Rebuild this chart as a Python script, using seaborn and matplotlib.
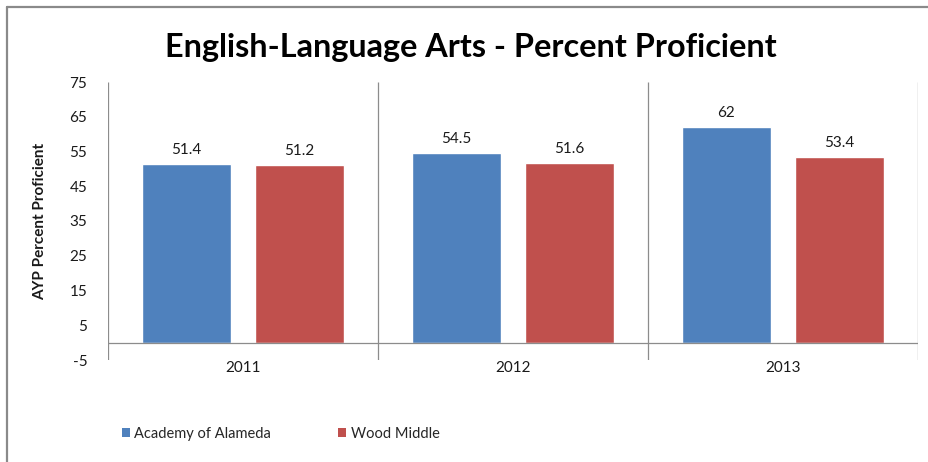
import matplotlib
matplotlib.use("Agg")
import matplotlib.pyplot as plt
from matplotlib.lines import Line2D
from matplotlib.patches import Patch
import pandas as pd
import seaborn as sns

# Data
years = ["2011", "2012", "2013"]
schools = ["Academy of Alameda", "Wood Middle"]
academy_values = [51.4, 54.5, 62]
wood_values = [51.2, 51.6, 53.4]
y_ticks = [-5, 5, 15, 25, 35, 45, 55, 65, 75]
colors = ["#4F81BD", "#C0504D"]

df = pd.DataFrame({
    "Year": years * 2,
    "School": [schools[0]] * 3 + [schools[1]] * 3,
    "Value": academy_values + wood_values,
})

sns.set_theme(style="white")
plt.rcParams["font.family"] = ["Lato", "DejaVu Sans"]

fig = plt.figure(figsize=(9.29, 4.62), dpi=100)
ax = fig.add_axes([108 / 929, 1 - 360 / 462, (918 - 108) / 929, (360 - 82) / 462])

sns.barplot(data=df, x="Year", y="Value", hue="School", order=years,
            hue_order=schools, palette=colors, saturation=1,
            width=0.84, gap=0.21, ax=ax, legend=False, errorbar=None)

for cont in ax.containers:
    ax.bar_label(cont, labels=[f"{v:g}" for v in cont.datavalues],
                 padding=5, fontsize=11, color="#1a1a1a")

ax.set_ylim(-5, 75)
ax.set_xlim(-0.5, 2.5)
ax.set_yticks(y_ticks)
ax.set_yticklabels([str(t) for t in y_ticks], fontsize=11, color="#1a1a1a")
ax.tick_params(axis="y", length=0, pad=15)
ax.tick_params(axis="x", length=0, pad=1, labelsize=11, labelcolor="#1a1a1a")
for s in ax.spines.values():
    s.set_visible(False)

# Category separators and zero line
ax.vlines([-0.5, 0.5, 1.5, 2.5], -5, 75, colors="#8c8c8c", lw=0.9, zorder=0)
ax.axhline(0, color="#8c8c8c", lw=0.9, zorder=3)

ax.set_xlabel("")
ax.set_ylabel("AYP Percent Proficient", fontsize=11, fontweight="bold",
              color="#1a1a1a", labelpad=16)

fig.text(471 / 929, 1 - 47 / 462, "English-Language Arts - Percent Proficient",
         ha="center", va="center", fontsize=23.3, fontweight="bold", color="black")

handles = [Patch(facecolor=c, edgecolor="none") for c in colors]
fig.legend(handles, schools, loc="center left", bbox_to_anchor=(122 / 929, 1 - 434 / 462),
           ncol=2, frameon=False, borderaxespad=0, borderpad=0,
           prop={"size": 10.5},
           handlelength=0.55, handleheight=0.6, handletextpad=0.3, columnspacing=4.6)

# Chart frame (top and left edges)
fig.add_artist(Line2D([7 / 929, 1], [1 - 7 / 462, 1 - 7 / 462],
                      transform=fig.transFigure, color="#8a8a8a", lw=1.6))
fig.add_artist(Line2D([7 / 929, 7 / 929], [0, 1 - 7 / 462],
                      transform=fig.transFigure, color="#8a8a8a", lw=1.6))

fig.savefig("out.png", dpi=100, facecolor="white")
